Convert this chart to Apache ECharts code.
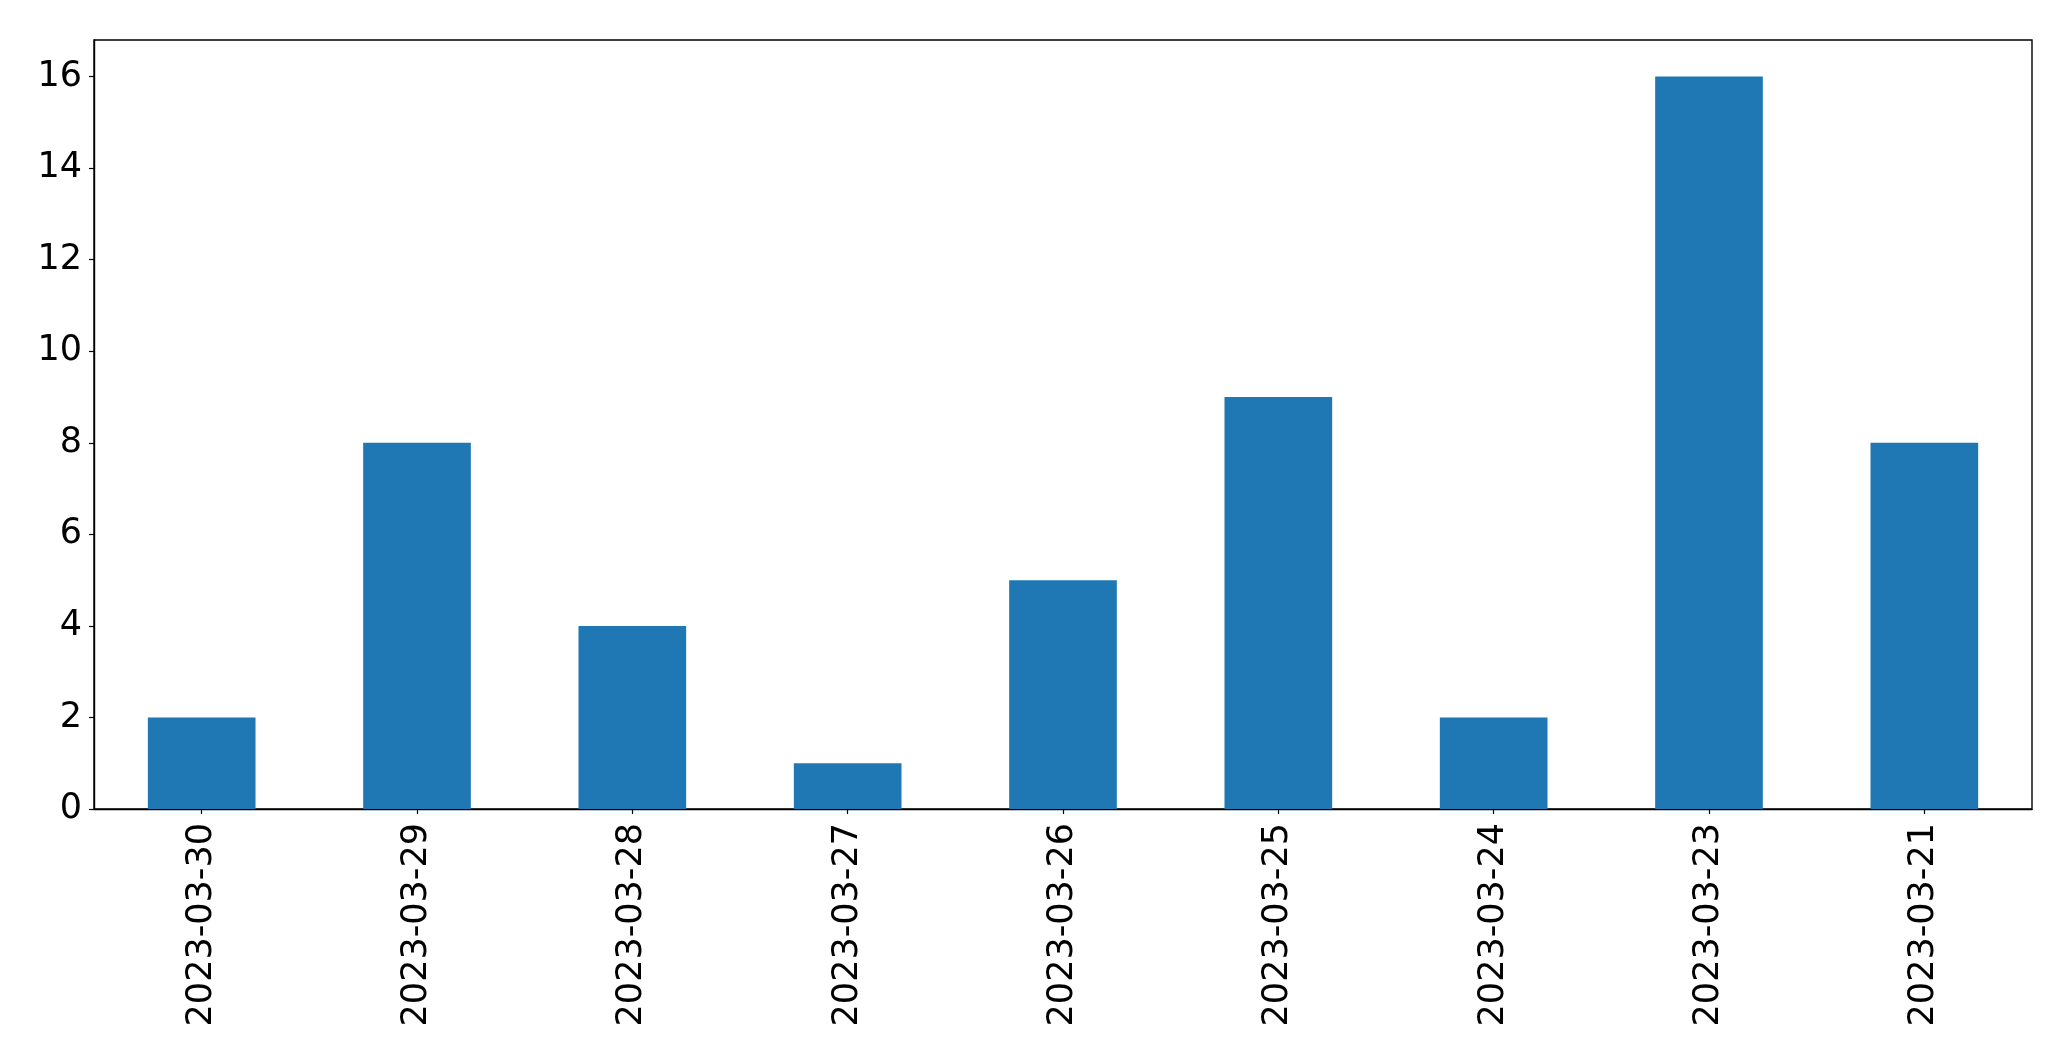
<!DOCTYPE html>
<html>
<head>
<meta charset="utf-8">
<script src="https://cdn.jsdelivr.net/npm/echarts@6/dist/echarts.min.js"></script>
<style>
html,body{margin:0;padding:0;background:#fff;}
#chart{width:2071px;height:1061px;}
</style>
</head>
<body>
<div id="chart"></div>
<script>
const categories = ['2023-03-30','2023-03-29','2023-03-28','2023-03-27','2023-03-26','2023-03-25','2023-03-24','2023-03-23','2023-03-21'];
const values = [2, 8, 4, 1, 5, 9, 2, 16, 8];
const yTicks = [0, 2, 4, 6, 8, 10, 12, 14, 16];

const chart = echarts.init(document.getElementById('chart'));
chart.setOption({
  animation: false,
  backgroundColor: '#ffffff',
  grid: {left: 94, right: 39, top: 40, bottom: 252, show: true, borderColor: '#000', borderWidth: 1.4, backgroundColor: 'transparent'},
  xAxis: {
    type: 'category',
    data: categories,
    boundaryGap: true,
    axisLine: {show: true, lineStyle: {color: '#000', width: 1.4}},
    axisTick: {show: true, alignWithLabel: true, length: 5, lineStyle: {color: '#000', width: 1.2}},
    axisLabel: {rotate: 90, margin: 14, fontSize: 35, color: '#000', fontFamily: 'DejaVu Sans', interval: 0},
    splitLine: {show: false}
  },
  yAxis: {
    type: 'value',
    min: 0,
    max: 16.8,
    interval: 2,
    axisLine: {show: true, lineStyle: {color: '#000', width: 1.4}},
    axisTick: {show: true, length: 5, lineStyle: {color: '#000', width: 1.2}, customValues: yTicks},
    axisLabel: {margin: 12, fontSize: 35, color: '#000', fontFamily: 'DejaVu Sans', customValues: yTicks},
    splitLine: {show: false}
  },
  series: [{
    type: 'bar',
    data: values,
    barWidth: '50%',
    itemStyle: {color: '#1f77b4'}
  }]
});
</script>
</body>
</html>
